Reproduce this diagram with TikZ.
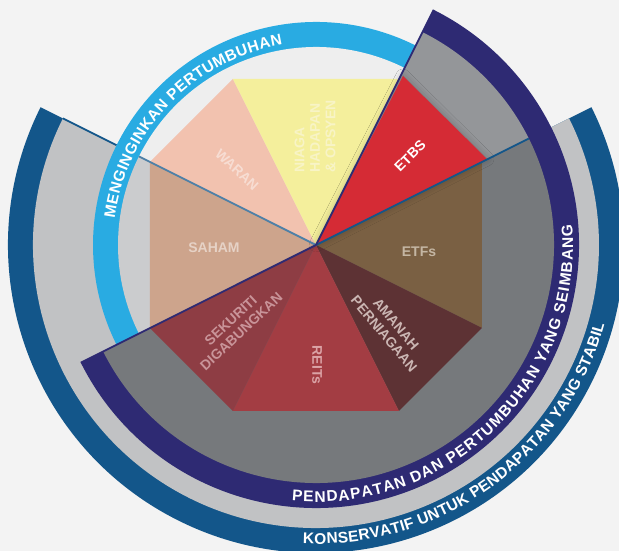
\documentclass[tikz,border=0pt]{standalone}
\usepackage{fontspec}
\setmainfont{Liberation Sans}
\usetikzlibrary{decorations.text,shadows.blur}

\definecolor{bgGray}{HTML}{F3F3F3}
\definecolor{konsBlue}{HTML}{13568A}
\definecolor{konsGray}{HTML}{C1C2C4}
\definecolor{growBlue}{HTML}{29ABE2}
\definecolor{growFill}{HTML}{EEEEEE}
\definecolor{growGray}{HTML}{CBCCCE}
\definecolor{balNavy}{HTML}{2E2A73}
\definecolor{balGray}{HTML}{76797C}
\definecolor{balLight}{HTML}{949699}
\definecolor{waranC}{HTML}{F2C2AF}
\definecolor{niagaC}{HTML}{F4EF9C}
\definecolor{etbsC}{HTML}{D52B35}
\definecolor{etfsC}{HTML}{7A6043}
\definecolor{amanahC}{HTML}{5D3234}
\definecolor{reitsC}{HTML}{A33D43}
\definecolor{sekuritiC}{HTML}{8E3D44}
\definecolor{sahamC}{HTML}{CDA48C}
\definecolor{waranT}{HTML}{F7DDD3}
\definecolor{niagaT}{HTML}{F8F4C6}
\definecolor{etfsT}{HTML}{C4B6A3}
\definecolor{amanahT}{HTML}{CBB6B3}
\definecolor{reitsT}{HTML}{DBA3A6}
\definecolor{sekuritiT}{HTML}{C99499}
\definecolor{sahamT}{HTML}{E6D2C6}

\newcommand{\ringfont}{\fontsize{15.5}{16}\selectfont\bfseries}
\newcommand{\labelfont}{\fontsize{14}{15.5}\selectfont\bfseries}

\begin{document}
\begin{tikzpicture}[x=1pt,y=1pt,
  ring text/.style={decorate,decoration={text along path,text align=fit to path,text color=white}},
  wedge label/.style={font=\labelfont,inner sep=0pt,align=center},
  sector line/.style={line width=1.8pt}]
  \useasboundingbox (-316,-306) rectangle (303,245);
  \clip (-316,-306) rectangle (303,245);
  \fill[bgGray] (-316,-306) rectangle (303,245);
  \coordinate (O) at (0,0);
  % octagon corners
  \coordinate (v1) at (-83,166);
  \coordinate (v2) at (83,166);
  \coordinate (v3) at (166,83);
  \coordinate (v4) at (166,-83);
  \coordinate (v5) at (83,-166);
  \coordinate (v6) at (-83,-166);
  \coordinate (v7) at (-166,-83);
  \coordinate (v8) at (-166,83);
  \coordinate (e1) at (87,169);
  \coordinate (e2) at (171,86);
  % sector edge ends
  \coordinate (kIn) at (153.43:198);
  \coordinate (kRing) at (153.43:223);
  \coordinate (kOut) at (153.43:283);
  \coordinate (kRight) at (26.57:238);
  \coordinate (pTop) at (63.43:263);
  \coordinate (pLow) at (206.57:263);

  % konservatif
  \fill[konsBlue] (O) -- (153.43:308) arc[start angle=153.43,end angle=386.57,radius=308] -- cycle;
  \fill[konsGray] (O) -- (153.43:283) arc[start angle=153.43,end angle=386.57,radius=283] -- cycle;
  \draw[sector line,konsBlue] (kRing) -- (kOut);
  % menginginkan pertumbuhan
  \fill[growBlue] (O) -- (63.43:223) arc[start angle=63.43,end angle=206.57,radius=223] -- cycle;
  \fill[growFill] (O) -- (63.43:198) arc[start angle=63.43,end angle=153.43,radius=198] -- cycle;
  \fill[growGray] (O) -- (153.43:198) arc[start angle=153.43,end angle=206.57,radius=198] -- cycle;
  % pendapatan dan pertumbuhan
  \fill[balNavy] (O) -- (206.57:263) arc[start angle=206.57,end angle=423.43,radius=263] -- cycle;
  \fill[balGray] (O) -- (206.57:238) arc[start angle=206.57,end angle=386.57,radius=238] -- cycle;
  \fill[balLight] (O) -- (26.57:238) arc[start angle=26.57,end angle=63.43,radius=238] -- cycle;

  % wedges
  \fill[waranC] (O) -- (v8) -- (v1) -- cycle;
  \fill[niagaC] (O) -- (v1) -- (v2) -- cycle;
  \fill[etfsC] (O) -- (v3) -- (v4) -- cycle;
  \fill[amanahC] (O) -- (v4) -- (v5) -- cycle;
  \fill[reitsC] (O) -- (v5) -- (v6) -- cycle;
  \fill[sekuritiC] (O) -- (v6) -- (v7) -- cycle;
  \fill[sahamC] (O) -- (v7) -- (v8) -- cycle;
  \fill[etbsC,blur shadow={shadow xshift=0pt,shadow yshift=0pt,shadow blur radius=7pt,shadow opacity=25}] (O) -- (e1) -- (e2) -- cycle;

  \draw[sector line,konsBlue!75] (O) -- (kIn);
  \draw[sector line,konsBlue] (O) -- (kRight);
  \draw[sector line,balNavy] (O) -- (pTop);
  \draw[sector line,balNavy] (O) -- (pLow);

  % ring texts
  \path[ring text,decoration={text={|\ringfont|MENGINGINKAN PERTUMBUHAN}}]
    (172.5:203) arc[start angle=172.5,end angle=99.5,radius=203];
  \path[ring text,decoration={text={|\ringfont|PENDAPATAN DAN PERTUMBUHAN YANG SEIMBANG}}]
    (264.6:257) arc[start angle=264.6,end angle=364.6,radius=257];
  \path[ring text,decoration={text={|\ringfont|KONSERVATIF UNTUK PENDAPATAN YANG STABIL}}]
    (267.5:299) arc[start angle=267.5,end angle=344.6,radius=299];

  % labels
  \node[wedge label,text=waranT,rotate=-43] (waran) at (-79,75) {WARAN};
  \node[wedge label,text=niagaT,rotate=90,anchor=west,align=left] (niaga) at (-1,72) {NIAGA\\HADAPAN\\\& OPSYEN};
  \node[wedge label,text=white,rotate=45] (etbs) at (94,89) {ETBS};
  \node[wedge label,text=etfsT] (etfs) at (103,-7) {ETFs};
  \node[wedge label,text=amanahT,rotate=-50] (amanah) at (74,-84) {AMANAH\\PERNIAGAAN};
  \node[wedge label,text=reitsT,rotate=-90] (reits) at (1,-120) {REITs};
  \node[wedge label,text=sekuritiT,rotate=43] (sekuriti) at (-80,-81) {SEKURITI\\DIGABUNGKAN};
  \node[wedge label,text=sahamT] (saham) at (-102,-3) {SAHAM};
\end{tikzpicture}
\end{document}
